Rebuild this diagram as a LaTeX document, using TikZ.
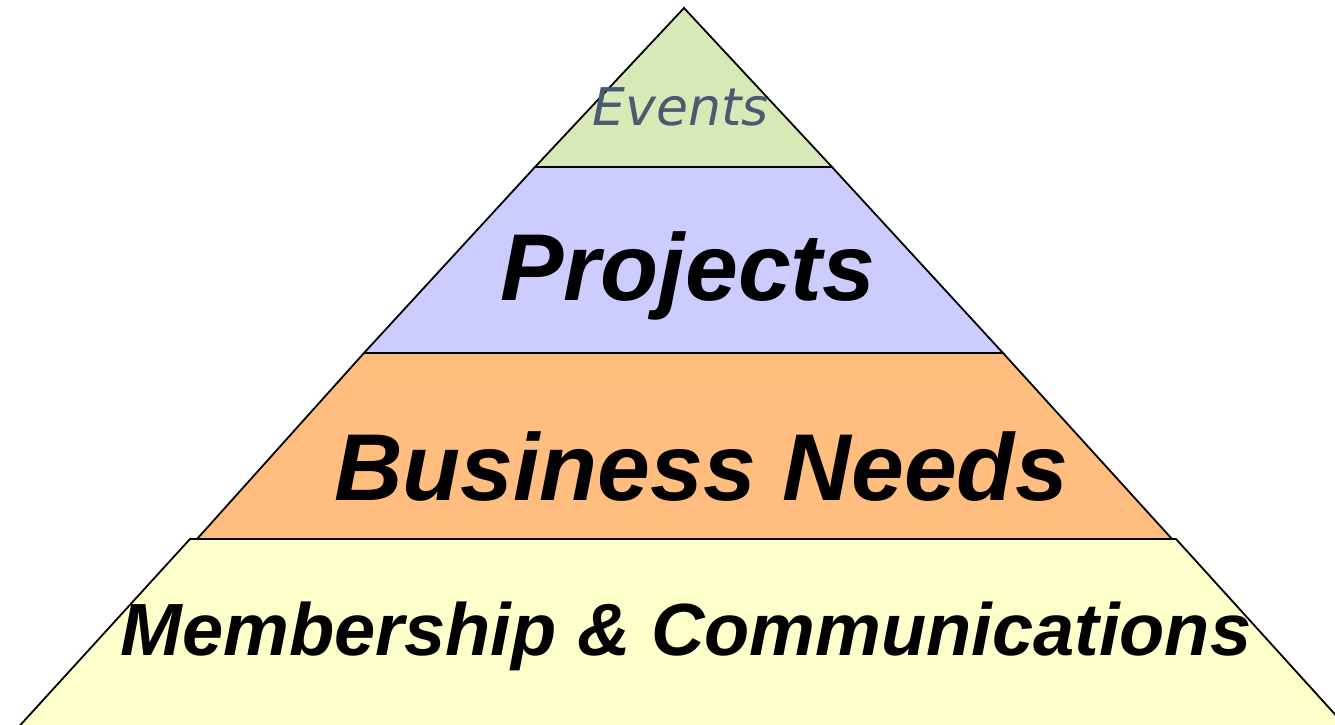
\documentclass[tikz,border=0pt]{standalone}
\usepackage{fontspec}
\newfontfamily\arialfont{Liberation Sans}
\newfontfamily\verdanafont{DejaVu Sans}
\definecolor{eventsgreen}{RGB}{215,233,182}
\definecolor{projectsblue}{RGB}{204,204,255}
\definecolor{needsorange}{RGB}{255,190,128}
\definecolor{commsyellow}{RGB}{255,255,204}
\definecolor{eventsgrey}{RGB}{74,90,115}

\begin{document}
\begin{tikzpicture}[
		x=1pt,y=-1pt,
		layer/.style={draw=black,line width=1.8pt},
		tier/.style={inner sep=0pt,anchor=base,font=\arialfont\bfseries\itshape\fontsize{95}{95}\selectfont},
		smalltier/.style={inner sep=0pt,anchor=base,font=\arialfont\bfseries\itshape\fontsize{74}{74}\selectfont},
		toptier/.style={inner sep=0pt,anchor=base,text=eventsgrey,font=\verdanafont\itshape\fontsize{52}{52}\selectfont}
		]
		\clip (0,0) rectangle (1335,725);
		% layers, from the bottom up
		\draw[layer,fill=commsyellow] (190,539) -- (1176,539) -- (1351,732) -- (14,732) -- cycle;
		\draw[layer,fill=needsorange] (364,353) -- (1003,353) -- (1172,539) -- (197,539) -- cycle;
		\draw[layer,fill=projectsblue] (535,167) -- (832,167) -- (1003,353) -- (364,353) -- cycle;
		\draw[layer,fill=eventsgreen] (684,8) -- (832,167) -- (535,167) -- cycle;
		
		\node[toptier] (events) at (681,125) {Events};
		\node[tier] (projects) at (688,300) {Projects};
		\node[tier] (needs) at (701,500) {Business Needs};
		\node[smalltier] (comms) at (686,655) {Membership \& Communications};
		\end{tikzpicture}
\end{document}
